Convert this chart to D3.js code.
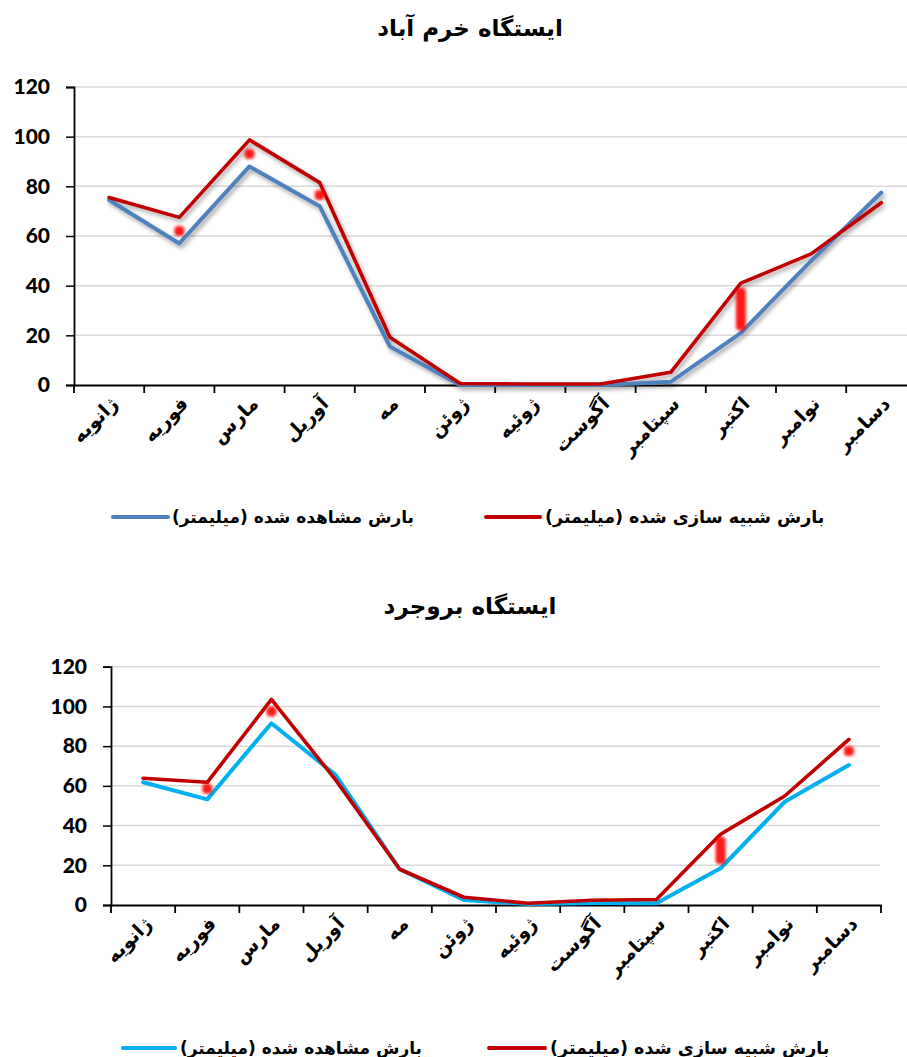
<!DOCTYPE html>
<html><head><meta charset="utf-8">
<script src="https://cdn.jsdelivr.net/npm/d3@7"></script>
<style>
body{margin:0;background:#fff;}
svg{display:block;}
.fa{font-family:"DejaVu Sans",sans-serif;font-weight:bold;}
.num{font-family:Lato,"Open Sans",sans-serif;font-weight:900;}
</style></head>
<body>
<svg id="c" width="907" height="1057"></svg>
<script>
// ---------- data ----------
const months = ["ژانویه","فوریه","مارس","آوریل","مه","ژوئن","ژوئیه","آگوست","سپتامبر","اکتبر","نوامبر","دسامبر"];
const yTicks = [0,20,40,60,80,100,120];
const legendObserved = "بارش مشاهده شده (میلیمتر)";
const legendSimulated = "بارش شبیه سازی شده (میلیمتر)";

const title1 = "ایستگاه خرم آباد";
const observed1 = [74.5, 57, 88, 72, 15.5, 0, 0, 0, 1.3, 21, 50, 77.5];
const simulated1 = [75.5, 67.5, 98.7, 81.5, 19.2, 0.6, 0.4, 0.4, 5.1, 41, 52.8, 73.4];
const spotMonths1 = ["فوریه","مارس","آوریل","اکتبر"];
const spotLow1 = [62, 93, 76.5, 24];
const spotHigh1 = [62, 93, 76.5, 37];

const title2 = "ایستگاه بروجرد";
const observed2 = [61.8, 53.2, 91.5, 65.5, 18, 2.5, 0.5, 1, 0.9, 18.5, 52, 70.5];
const simulated2 = [63.8, 61.8, 103.5, 63, 18, 3.9, 0.9, 2.4, 2.8, 35.6, 54.9, 83.4];
const spotMonths2 = ["فوریه","مارس","اکتبر","دسامبر"];
const spotLow2 = [58.5, 97.5, 23, 77.5];
const spotHigh2 = [58.5, 97.5, 32, 77.5];

// ---------- drawing ----------
const svg = d3.select("#c");
const defs = svg.append("defs");
const sh = defs.append("filter").attr("id","shadow").attr("x","-10%").attr("y","-10%").attr("width","120%").attr("height","130%");
sh.append("feDropShadow").attr("dx",2).attr("dy",3).attr("stdDeviation",2).attr("flood-color","#000").attr("flood-opacity",0.35);
const bl = defs.append("filter").attr("id","blur").attr("x","-100%").attr("y","-100%").attr("width","300%").attr("height","300%");
bl.append("feGaussianBlur").attr("stdDeviation",1.6);

function chart(cfg){
  const g = svg.append("g");
  const x = d3.scaleBand().domain(months).range([cfg.left, cfg.right]);
  const y = d3.scaleLinear().domain([0,120]).range([cfg.bottom, cfg.top]);

  g.append("text").attr("class","fa").attr("x",cfg.titleX).attr("y",cfg.titleY)
    .attr("text-anchor","middle").attr("font-size",23).attr("fill","#000").text(cfg.title);

  // grid
  g.append("g").selectAll("line").data(yTicks.filter(d=>d>0)).join("line")
    .attr("x1",cfg.left).attr("x2",cfg.gridRight)
    .attr("y1",d=>y(d)).attr("y2",d=>y(d))
    .attr("stroke","#D9D9D9").attr("stroke-width",1.5);

  // y axis
  const ya = g.append("g").attr("transform",`translate(${cfg.left},0)`)
    .call(d3.axisLeft(y).tickValues(yTicks).tickSize(8).tickPadding(16));
  ya.select(".domain").attr("stroke","#000").attr("stroke-width",1.8);
  ya.selectAll(".tick line").attr("stroke","#000").attr("stroke-width",1.5);
  ya.selectAll(".tick text").attr("class","num").attr("font-size",21).attr("fill","#000");

  // x axis
  const xa = g.append("g").attr("transform",`translate(0,${cfg.bottom})`)
    .call(d3.axisBottom(x).tickSize(0).tickFormat(""));
  xa.select(".domain").attr("stroke","#000").attr("stroke-width",2);
  const bounds = d3.range(months.length+1).map(i => cfg.left + i*x.step());
  xa.append("g").selectAll("line").data(bounds).join("line")
    .attr("x1",d=>d).attr("x2",d=>d).attr("y1",0).attr("y2",8)
    .attr("stroke","#000").attr("stroke-width",1.8);
  xa.append("g").selectAll("text").data(months).join("text")
    .attr("class","fa").attr("font-size",19).attr("fill","#000")
    .attr("text-anchor","end")
    .attr("transform",d=>`translate(${x(d)+x.bandwidth()/2+10},${cfg.labelDy}) rotate(-45)`)
    .text(d=>d);

  const line = d3.line().x((d,i)=>x(months[i])+x.bandwidth()/2).y(d=>y(d));
  const lg = g.append("g");
  if (cfg.shadow) lg.attr("filter","url(#shadow)");
  lg.append("path").datum(cfg.observed).attr("d",line).attr("fill","none")
    .attr("stroke",cfg.obsColor).attr("stroke-width",4).attr("stroke-linejoin","round").attr("stroke-linecap","round");
  lg.append("path").datum(cfg.simulated).attr("d",line).attr("fill","none")
    .attr("stroke","#C00000").attr("stroke-width",3.6).attr("stroke-linejoin","round").attr("stroke-linecap","round");

  // red spots
  g.append("g").attr("filter","url(#blur)").selectAll("rect").data(cfg.spotMonths).join("rect")
    .attr("x",d=>x(d)+x.bandwidth()/2-5)
    .attr("y",(d,i)=>y(cfg.spotHigh[i])-5)
    .attr("width",10)
    .attr("height",(d,i)=>y(cfg.spotLow[i])-y(cfg.spotHigh[i])+10)
    .attr("rx",4).attr("fill","#FF0000").attr("opacity",0.9);

  // legend
  const L = g.append("g");
  L.append("line").attr("x1",cfg.legObsLine[0]).attr("x2",cfg.legObsLine[1]).attr("y1",cfg.legY).attr("y2",cfg.legY)
    .attr("stroke",cfg.obsColor).attr("stroke-width",4).attr("stroke-linecap","round");
  L.append("text").attr("class","fa").attr("font-size",17).attr("x",cfg.legObsText).attr("y",cfg.legY+6)
    .attr("text-anchor","start").text(legendObserved);
  L.append("line").attr("x1",cfg.legSimLine[0]).attr("x2",cfg.legSimLine[1]).attr("y1",cfg.legY).attr("y2",cfg.legY)
    .attr("stroke","#C00000").attr("stroke-width",4).attr("stroke-linecap","round");
  L.append("text").attr("class","fa").attr("font-size",17.5).attr("x",cfg.legSimText).attr("y",cfg.legY+6)
    .attr("text-anchor","start").text(legendSimulated);
}

chart({title:title1,titleX:470,titleY:36,left:74,right:916.4,gridRight:907,top:87,bottom:385,
  labelDy:20,observed:observed1,simulated:simulated1,obsColor:"#4F81BD",shadow:true,
  spotMonths:spotMonths1,spotLow:spotLow1,spotHigh:spotHigh1,
  legY:517,legObsLine:[113,168],legObsText:172,legSimLine:[486,540],legSimText:545});

chart({title:title2,titleX:470,titleY:614,left:111,right:881,gridRight:880,top:666.7,bottom:905,
  labelDy:20,observed:observed2,simulated:simulated2,obsColor:"#00B0F0",shadow:false,
  spotMonths:spotMonths2,spotLow:spotLow2,spotHigh:spotHigh2,
  legY:1048,legObsLine:[123,175],legObsText:180,legSimLine:[489,545],legSimText:550});
</script>
</body></html>
